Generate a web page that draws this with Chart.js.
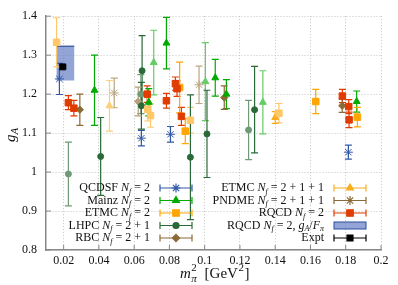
<!DOCTYPE html>
<html lang="en">
<head>
<meta charset="UTF-8">
<title>g_A vs m_pi^2</title>
<script src="https://cdn.jsdelivr.net/npm/chart.js"></script>
<style>
  html, body { margin: 0; padding: 0; background: #fff; }
</style>
</head>
<body>
<canvas id="myChart" width="398" height="285"></canvas>
<script>
// axis ticks
const xTicks = [0.02, 0.04, 0.06, 0.08, 0.1, 0.12, 0.14, 0.16, 0.18, 0.2];
const yTicks = [0.8, 0.9, 1, 1.1, 1.2, 1.3, 1.4];

// QCDSF Nf=2
const qcdsfX = [0.0176, 0.0641, 0.0806, 0.1815];
const qcdsfY = [1.239, 1.087, 1.097, 1.051];
const qcdsfErr = [0.040, 0.020, 0.020, 0.018];

// Mainz Nf=2
const mainzX = [0.0375, 0.0683, 0.0711, 0.0783, 0.1004, 0.106, 0.1123, 0.133, 0.1862];
const mainzY = [1.210, 1.179, 1.281, 1.331, 1.232, 1.242, 1.200, 1.179, 1.181];
const mainzErr = [0.090, 0.035, 0.083, 0.066, 0.100, 0.047, 0.037, 0.081, 0.027];

// ETMC Nf=2
const etmcX = [0.016, 0.0677, 0.0693, 0.0858, 0.089, 0.0919, 0.1421, 0.163, 0.1866];
const etmcY = [1.333, 1.161, 1.145, 1.217, 1.105, 1.133, 1.151, 1.181, 1.141];
const etmcErr = [0.063, 0.030, 0.030, 0.065, 0.032, 0.033, 0.025, 0.031, 0.025];

// LHPC Nf=2+1
const lhpcX = [0.0227, 0.041, 0.0645, 0.0638, 0.0641, 0.0919, 0.1013, 0.1249, 0.1283];
const lhpcY = [0.995, 1.040, 1.260, 1.200, 1.170, 1.038, 1.098, 1.108, 1.160];
const lhpcErr = [0.082, 0.100, 0.090, 0.050, 0.060, 0.160, 0.112, 0.076, 0.111];

// RBC Nf=2+1
const rbcX = [0.0292, 0.0623, 0.1111, 0.178];
const rbcY = [1.160, 1.181, 1.191, 1.170];
const rbcErr = [0.040, 0.037, 0.030, 0.017];

// ETMC Nf=2+1+1
const etmc4X = [0.046, 0.14];
const etmc4Y = [1.170, 1.140];
const etmc4Err = [0.065, 0.015];

// PNDME Nf=2+1+1
const pndmeX = [0.0487, 0.0968];
const pndmeY = [1.203, 1.224];
const pndmeErr = [0.038, 0.048];

// RQCD Nf=2
const rqcdX = [0.0227, 0.0258, 0.0674, 0.0783, 0.0834, 0.0843, 0.0868, 0.1781, 0.1817, 0.1819];
const rqcdY = [1.178, 1.164, 1.200, 1.183, 1.227, 1.214, 1.143, 1.195, 1.168, 1.134];
const rqcdErr = [0.018, 0.020, 0.021, 0.019, 0.017, 0.020, 0.023, 0.017, 0.018, 0.020];

// RQCD Nf=2, gA/Fpi band (x range, y range)
const bandX = [0.016, 0.026];
const bandY = [1.235, 1.323];

// experiment
const exptX = [0.0195];
const exptY = [1.270];
const exptErr = [0.003];

const SERIF = '"Liberation Serif", "DejaVu Serif", serif';

function pts(xs, ys) { return xs.map((x, i) => ({ x: x, y: ys[i] })); }

// series styles (faded = lighter points)
function series(label, xs, ys, errs, style, color, light, faded, radius) {
  const pick = c => faded.includes(c.dataIndex) ? light : color;
  return {
    label: label,
    data: pts(xs, ys),
    yErr: errs,
    pointStyle: style,
    pointRadius: radius,
    pointHoverRadius: radius,
    pointBorderWidth: 1,
    pointBackgroundColor: pick,
    pointBorderColor: pick,
    barColor: i => faded.includes(i) ? light : color,
    showLine: false
  };
}

const datasets = [
  series('Expt', exptX, exptY, exptErr, 'rect', '#000000', '#000000', [], 4.2),
  series('QCDSF', qcdsfX, qcdsfY, qcdsfErr, 'star', '#3159a8', '#7f98cc', [], 4.5),
  series('RQCD', rqcdX, rqcdY, rqcdErr, 'rect', '#e03c00', '#f08a66', [], 4.6),
  series('Mainz', mainzX, mainzY, mainzErr, 'triangle', '#00aa00', '#66cc66', [2, 4, 7], 4),
  series('ETMC', etmcX, etmcY, etmcErr, 'rect', '#ffa500', '#ffc768', [0, 1, 2, 5, 6], 4.6),
  series('LHPC', lhpcX, lhpcY, lhpcErr, 'circle', '#2a6a38', '#6f9a78', [0, 3, 7], 3),
  series('RBC', rbcX, rbcY, rbcErr, 'rectRot', '#8b6a35', '#b7a07a', [1], 3.6),
  series('ETMC4', etmc4X, etmc4Y, etmc4Err, 'triangle', '#f9ad1c', '#fcd07a', [0], 4),
  series('PNDME', pndmeX, pndmeY, pndmeErr, 'star', '#8b6a35', '#bba684', [0, 1], 4.5)
];

// band + error bars drawn under the markers
const errorBars = {
  id: 'errorBars',
  beforeDatasetsDraw(chart) {
    const ctx = chart.ctx, xs = chart.scales.x, ys = chart.scales.y;
    ctx.save();
    const bx0 = xs.getPixelForValue(bandX[0]), bx1 = xs.getPixelForValue(bandX[1]);
    const by0 = ys.getPixelForValue(bandY[1]), by1 = ys.getPixelForValue(bandY[0]);
    ctx.fillStyle = 'rgba(110,135,200,0.75)';
    ctx.fillRect(bx0, by0, bx1 - bx0, by1 - by0);
    ctx.strokeStyle = '#2d4f9e';
    ctx.lineWidth = 1.2;
    ctx.beginPath();
    ctx.moveTo(bx0, by0); ctx.lineTo(bx1, by0);
    ctx.stroke();
    chart.data.datasets.forEach(ds => {
      ds.data.forEach((p, i) => {
        const e = ds.yErr[i];
        const x = xs.getPixelForValue(p.x);
        const yt = ys.getPixelForValue(p.y + e), yb = ys.getPixelForValue(p.y - e);
        ctx.strokeStyle = ds.barColor(i);
        ctx.lineWidth = 1.2;
        ctx.beginPath();
        ctx.moveTo(x, yt); ctx.lineTo(x, yb);
        ctx.moveTo(x - 3.5, yt); ctx.lineTo(x + 3.5, yt);
        ctx.moveTo(x - 3.5, yb); ctx.lineTo(x + 3.5, yb);
        ctx.stroke();
      });
    });
    ctx.restore();
  }
};

function fontFor(p, size) {
  const s = (p.sub || p.sup) ? Math.round(size * 0.7) : size;
  return (p.it ? 'italic ' : '') + s + 'px ' + SERIF;
}

function richWidth(ctx, parts, size) {
  let w = 0;
  parts.forEach(p => { ctx.font = fontFor(p, size); w += ctx.measureText(p.t).width; });
  return w;
}

function richText(ctx, parts, x, y, size) {
  parts.forEach(p => {
    ctx.font = fontFor(p, size);
    const dy = p.sub ? size * 0.3 : (p.sup ? -size * 0.4 : 0);
    ctx.fillText(p.t, x, y + dy);
    x += ctx.measureText(p.t).width;
  });
}

const NF = [{ t: 'N', it: true }, { t: 'f', it: true, sub: true }];
const legendLeft = [
  { parts: [{ t: 'QCDSF ' }, ...NF, { t: ' = 2' }], ds: 1 },
  { parts: [{ t: 'Mainz ' }, ...NF, { t: ' = 2' }], ds: 3 },
  { parts: [{ t: 'ETMC ' }, ...NF, { t: ' = 2' }], ds: 4 },
  { parts: [{ t: 'LHPC ' }, ...NF, { t: ' = 2 + 1' }], ds: 5 },
  { parts: [{ t: 'RBC ' }, ...NF, { t: ' = 2 + 1' }], ds: 6 }
];
const legendRight = [
  { parts: [{ t: 'ETMC ' }, ...NF, { t: ' = 2 + 1 + 1' }], ds: 7 },
  { parts: [{ t: 'PNDME ' }, ...NF, { t: ' = 2 + 1 + 1' }], ds: 8 },
  { parts: [{ t: 'RQCD ' }, ...NF, { t: ' = 2' }], ds: 2 },
  { parts: [{ t: 'RQCD ' }, ...NF, { t: ' = 2, ' }, { t: 'g', it: true }, { t: 'A', it: true, sub: true }, { t: '/' }, { t: 'F', it: true }, { t: 'π', it: true, sub: true }], band: true },
  { parts: [{ t: 'Expt' }], ds: 0 }
];

const annotations = {
  id: 'annotations',
  afterDraw(chart) {
    const ctx = chart.ctx, area = chart.chartArea;
    const xs = chart.scales.x, ys = chart.scales.y;
    ctx.save();
    // inward tick marks
    ctx.strokeStyle = '#888';
    ctx.lineWidth = 1;
    ctx.beginPath();
    yTicks.forEach(v => { const y = ys.getPixelForValue(v); ctx.moveTo(area.left, y); ctx.lineTo(area.left + 5, y); });
    xTicks.forEach(v => { const x = xs.getPixelForValue(v); ctx.moveTo(x, area.bottom); ctx.lineTo(x, area.bottom - 5); });
    ctx.stroke();

    // legend
    ctx.textBaseline = 'middle';
    ctx.fillStyle = '#111';
    const rowY = [188, 200.5, 213, 225.5, 238];
    const drawCol = (items, textRight, x0, x1) => {
      items.forEach((it, r) => {
        const y = rowY[r];
        ctx.fillStyle = '#111';
        const w = richWidth(ctx, it.parts, 12);
        richText(ctx, it.parts, textRight - w, y, 12);
        if (it.band) {
          ctx.fillStyle = 'rgba(110,135,200,0.75)';
          ctx.fillRect(x0, y - 3.5, x1 - x0, 7);
          ctx.strokeStyle = '#2d4f9e';
          ctx.lineWidth = 1;
          ctx.strokeRect(x0, y - 3.5, x1 - x0, 7);
          return;
        }
        const ds = chart.data.datasets[it.ds];
        const col = ds.barColor(-1);
        ctx.strokeStyle = col;
        ctx.lineWidth = 1.2;
        ctx.beginPath();
        ctx.moveTo(x0, y); ctx.lineTo(x1, y);
        ctx.moveTo(x0, y - 3.5); ctx.lineTo(x0, y + 3.5);
        ctx.moveTo(x1, y - 3.5); ctx.lineTo(x1, y + 3.5);
        ctx.stroke();
        ctx.fillStyle = col;
        Chart.helpers.drawPoint(ctx, { pointStyle: ds.pointStyle, radius: ds.pointRadius, rotation: 0, borderWidth: 1 }, (x0 + x1) / 2, y);
      });
    };
    drawCol(legendLeft, 150, 160, 192);
    drawCol(legendRight, 324, 334, 366);

    // axis titles
    ctx.fillStyle = '#111';
    ctx.textBaseline = 'alphabetic';
    const xl = 180, yl = 278;
    ctx.font = 'italic 15px ' + SERIF;
    ctx.fillText('m', xl, yl);
    const mw = ctx.measureText('m').width;
    ctx.font = 'italic 11px ' + SERIF;
    ctx.fillText('π', xl + mw + 0.5, yl + 4);
    ctx.font = '11px ' + SERIF;
    ctx.fillText('2', xl + mw + 0.5, yl - 7);
    let x2 = xl + mw + 10;
    ctx.font = '15px ' + SERIF;
    ctx.fillText(' [GeV', x2, yl);
    x2 += ctx.measureText(' [GeV').width;
    ctx.font = '11px ' + SERIF;
    ctx.fillText('2', x2 + 0.5, yl - 7);
    x2 += ctx.measureText('2').width + 1;
    ctx.font = '15px ' + SERIF;
    ctx.fillText(']', x2, yl);

    ctx.translate(15, 134);
    ctx.rotate(-Math.PI / 2);
    ctx.font = 'italic 15px ' + SERIF;
    ctx.fillText('g', -8, 0);
    const gw = ctx.measureText('g').width;
    ctx.font = 'italic 11px ' + SERIF;
    ctx.fillText('A', -8 + gw, 3);
    ctx.restore();
  }
};

const ctx = document.getElementById('myChart').getContext('2d');
const myChart = new Chart(ctx, {
  type: 'scatter',
  data: { datasets: datasets },
  options: {
    responsive: false,
    animation: false,
    devicePixelRatio: 1,
    layout: { padding: { top: 11, right: 17, left: 0, bottom: 0 } },
    plugins: { legend: { display: false }, tooltip: { enabled: false } },
    scales: {
      x: {
        type: 'linear',
        min: 0.01,
        max: 0.2,
        afterBuildTicks: s => { s.ticks = xTicks.map(v => ({ value: v })); },
        afterFit: s => { s.height = 35; },
        ticks: {
          padding: 4,
          color: '#111',
          font: { family: SERIF, size: 12 },
          maxRotation: 0,
          callback: v => String(Math.round(v * 100) / 100)
        },
        grid: { color: '#c4c4c4', lineWidth: 1, drawTicks: false },
        border: { color: '#888', width: 1.5, dash: [1, 2] }
      },
      y: {
        type: 'linear',
        min: 0.8,
        max: 1.4,
        afterBuildTicks: s => { s.ticks = yTicks.map(v => ({ value: v })); },
        afterFit: s => { s.width = 46; },
        ticks: {
          padding: 9,
          color: '#111',
          font: { family: SERIF, size: 12 },
          callback: v => String(Math.round(v * 10) / 10)
        },
        grid: { color: '#c4c4c4', lineWidth: 1, drawTicks: false },
        border: { color: '#888', width: 1.5, dash: [1, 2] }
      }
    }
  },
  plugins: [errorBars, annotations]
});
</script>
</body>
</html>
